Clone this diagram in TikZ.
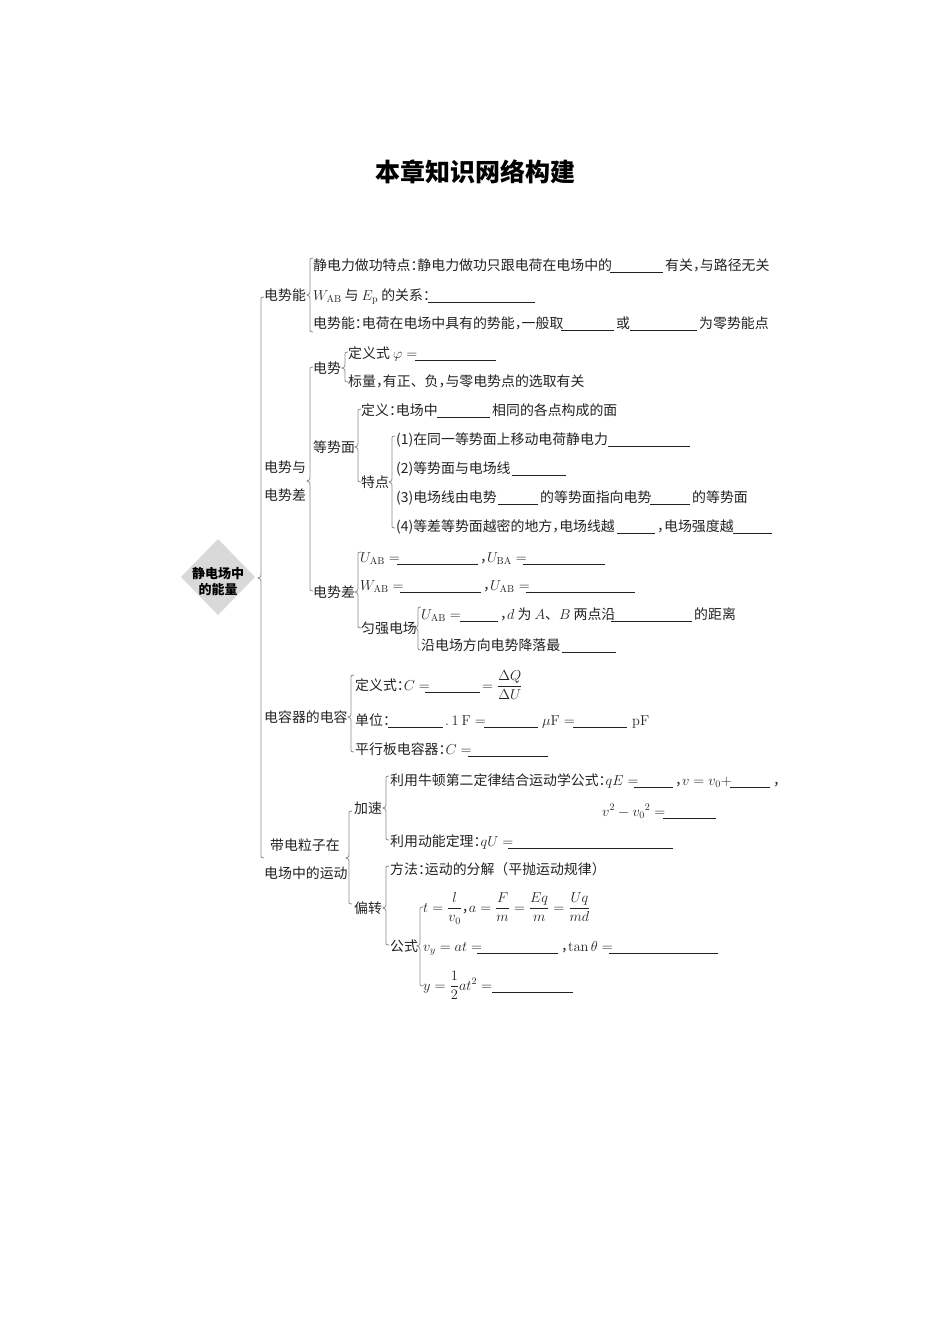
\documentclass[tikz,border=0pt]{standalone}
\usepackage{amsmath}
\usepackage[no-math]{fontspec}
\setmainfont{Noto Sans CJK SC}
\usetikzlibrary{shapes.geometric}
\definecolor{ink}{HTML}{222222}
\definecolor{brcgray}{HTML}{8A8A8A}
\definecolor{dia}{HTML}{D9D9D9}
\newcommand\tx[4]{\node[txt] (#1) at (#2,#3+5) {#4};}
\newcommand\bl[3]{\draw[blankln] (#1,#3+7) -- (#2,#3+7);}
\newcommand\brc[4]{\draw[brcln] (#1+3,#2) .. controls (#1,#2) .. (#1,#2+4) -- (#1,#3-4) .. controls (#1,#3-1) .. (#1-3,#3) .. controls (#1,#3+1) .. (#1,#3+4) -- (#1,#4-4) .. controls (#1,#4) .. (#1+3,#4);}
\newcommand\cm{\makebox[0.5em][l]{，}}
\newcommand\cl{\makebox[0.5em][l]{：}}
\begin{document}
\begin{tikzpicture}[x=1pt,y=-1pt,
  txt/.style={anchor=base west, inner sep=0pt, text=ink, font=\fontsize{13.9}{16}\selectfont},
  blankln/.style={draw=ink, line width=0.6pt},
  brcln/.style={draw=brcgray, line width=0.8pt}]
\useasboundingbox (0,0) rectangle (950,1344);
% title
\node[text=black, font=\bfseries\fontsize{25}{30}\selectfont] (title) at (475,172) {本章知识网络构建};
% root diamond
\fill[dia] (181,577) -- (218,539) -- (255,577) -- (218,615) -- cycle;
\node[align=center, text=black, inner sep=0pt, font=\bfseries\fontsize{13}{16}\selectfont] (root) at (218,582) {静电场中\\的能量};
% main brace
\brc{261}{297}{578}{858}
% level 1
\tx{n1}{264}{295}{电势能}
\tx{n2a}{264}{467}{电势与}
\tx{n2b}{264}{495}{电势差}
\tx{n3}{264}{717}{电容器的电容}
\tx{n4a}{270}{845}{带电粒子在}
\tx{n4b}{264}{873}{电场中的运动}
% 电势能
\brc{310}{258}{295}{332}
\tx{a1}{313}{265}{静电力做功特点\cl 静电力做功只跟电荷在电场中的}
\bl{610}{663}{265}
\tx{a1b}{665}{265}{有关\cm 与路径无关}
\tx{a2}{313}{295}{$W_{\mathrm{AB}}$ 与 $E_{\mathrm p}$ 的关系\cl}
\bl{428}{535}{295}
\tx{a3}{313}{323}{电势能\cl 电荷在电场中具有的势能\cm 一般取}
\bl{561}{614}{323}
\tx{a3b}{616}{323}{或}
\bl{630}{697}{323}
\tx{a3c}{699}{323}{为零势能点}
% 电势与电势差
\brc{310}{367}{481}{591}
\tx{b}{313}{368}{电势}
\brc{345}{352}{368}{382}
\tx{b1}{348}{353}{定义式 $\varphi=$}
\bl{415}{496}{353}
\tx{b2}{348}{381}{标量\cm 有正、负\cm 与零电势点的选取有关}
\tx{c}{313}{447}{等势面}
\brc{358}{409}{447}{482}
\tx{c1}{361}{410}{定义\cl 电场中}
\bl{437}{490}{410}
\tx{c1b}{492}{410}{相同的各点构成的面}
\tx{c2}{361}{482}{特点}
\brc{392}{436}{482}{528}
\tx{d1}{396}{439}{(1)在同一等势面上移动电荷静电力}
\bl{608}{690}{439}
\tx{d2}{396}{468}{(2)等势面与电场线}
\bl{512}{566}{468}
\tx{d3}{396}{497}{(3)电场线由电势}
\bl{498}{538}{497}
\tx{d3b}{540}{497}{的等势面指向电势}
\bl{650}{690}{497}
\tx{d3c}{692}{497}{的等势面}
\tx{d4}{396}{526}{(4)等差等势面越密的地方\cm 电场线越}
\bl{617}{655}{526}
\tx{d4b}{657}{526}{\cm 电场强度越}
\bl{733}{772}{526}
\tx{e}{313}{592}{电势差}
\brc{358}{552}{592}{628}
\tx{e1}{360}{557}{$U_{\mathrm{AB}}=$}
\bl{397}{478}{557}
\tx{e1b}{480}{557}{\cm$U_{\mathrm{BA}}=$}
\bl{523}{605}{557}
\tx{e2}{360}{585}{$W_{\mathrm{AB}}=$}
\bl{400}{481}{585}
\tx{e2b}{483}{585}{\cm$U_{\mathrm{AB}}=$}
\bl{526}{635}{585}
\tx{f}{361}{628}{匀强电场}
\brc{418}{607}{628}{650}
\tx{f1}{421}{614}{$U_{\mathrm{AB}}=$}
\bl{460}{498}{614}
\tx{f1b}{500}{614}{\cm$d$ 为 $A$、$B$ 两点沿}
\bl{611}{692}{614}
\tx{f1c}{694}{614}{的距离}
\tx{f2}{421}{645}{沿电场方向电势降落最}
\bl{562}{616}{645}
% 电容器的电容
\brc{351}{675}{717}{752}
\tx{g1}{355}{685}{定义式\cl$C=$}
\bl{425}{480}{685}
\tx{g1b}{482}{685}{$=\dfrac{\Delta Q}{\Delta U}$}
\tx{g2}{355}{720}{单位\cl}
\bl{388}{443}{720}
\tx{g2b}{445}{720}{$.\,1\ \mathrm{F}=$}
\bl{484}{538}{720}
\tx{g2c}{542}{720}{$\mu\mathrm{F}=$}
\bl{573}{627}{720}
\tx{g2d}{632}{720}{$\mathrm{pF}$}
\tx{g3}{355}{749}{平行板电容器\cl$C=$}
\bl{468}{548}{749}
% 带电粒子在电场中的运动
\brc{349}{811}{858}{904}
\tx{h}{354}{808}{加速}
\brc{386}{776}{808}{840}
\tx{h1}{390}{780}{利用牛顿第二定律结合运动学公式\cl$qE=$}
\bl{634}{673}{780}
\tx{h1b}{675}{780}{\cm$v=v_0+$}
\bl{730}{770}{780}
\tx{h1c}{773}{780}{，}
\tx{h2}{602}{811}{$v^2-{v_0}^2=$}
\bl{663}{716}{811}
\tx{h3}{390}{841}{利用动能定理\cl$qU=$}
\bl{508}{673}{841}
\tx{i}{354}{908}{偏转}
\brc{386}{866}{908}{945}
\tx{i1}{390}{869}{方法\cl 运动的分解（平抛运动规律）}
\tx{j}{390}{946}{公式}
\brc{420}{907}{946}{986}
\tx{j1}{423}{907}{$t=\dfrac{l}{v_0}$\cm$a=\dfrac{F}{m}=\dfrac{Eq}{m}=\dfrac{Uq}{md}$}
\tx{j2}{423}{946}{$v_y=at=$}
\bl{477}{558}{946}
\tx{j2b}{561}{946}{\cm$\tan\theta=$}
\bl{609}{718}{946}
\tx{j3}{423}{985}{$y=\dfrac{1}{2}at^2=$}
\bl{492}{573}{985}
\end{tikzpicture}
\end{document}
